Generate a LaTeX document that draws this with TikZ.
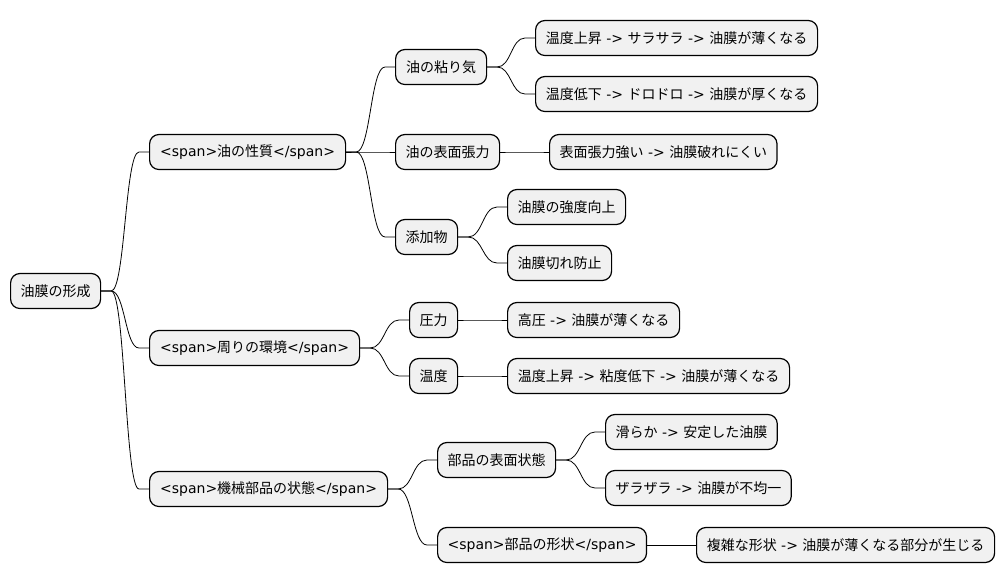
\documentclass[tikz,border=0pt]{standalone}
\usepackage{fontspec}
\setmainfont{Noto Sans CJK JP}
\newfontfamily\latinfont{DejaVu Sans}
\newcommand\lt[1]{{\latinfont#1}}
\usetikzlibrary{calc}

\definecolor{boxgray}{HTML}{F1F1F1}
\tikzset{
    topic/.style={draw, fill=boxgray, rounded corners=7pt, line width=0.9pt, anchor=west,
        minimum height=26.25pt, inner xsep=7.5pt, font=\fontsize{10.5}{12}\selectfont},
    link/.style={line width=0.6pt}
}
% branch from parent (east) to child (west)
\newcommand\branch[2]{%
    \path (#1.east) ++(7.5pt,0) coordinate (p) (#2.west) ++(-7.5pt,0) coordinate (q);
    \draw[link] let \p1=(p), \p2=(q) in (#1.east) -- (p)
        .. controls ({(\x1+\x2)/2},\y1) and ({(\x1+\x2)/2},\y2) .. (q) -- (#2.west);}

\begin{document}
\begin{tikzpicture}[x=0.75pt, y=-0.75pt]
    \useasboundingbox (0,0) rectangle (1004,583);

    \node[topic, minimum width=67.5pt] (root) at (10,291) {油膜の形成};

    \node[topic, minimum width=147pt] (oil) at (149,152) {\lt{<span>}油の性質\lt{</span>}};
    \node[topic, minimum width=157.5pt] (env) at (149,348) {\lt{<span>}周りの環境\lt{</span>}};
    \node[topic, minimum width=178.5pt] (part) at (149,489) {\lt{<span>}機械部品の状態\lt{</span>}};

    \node[topic, minimum width=68.25pt] (visc) at (395,67) {油の粘り気};
    \node[topic, minimum width=78pt] (tens) at (395,152) {油の表面張力};
    \node[topic, minimum width=46.5pt] (addi) at (395,237) {添加物};
    \node[topic, minimum width=211.5pt] (hot) at (535,38) {温度上昇\lt{ -> }サラサラ\lt{ -> }油膜が薄くなる};
    \node[topic, minimum width=211.5pt] (cold) at (535,94) {温度低下\lt{ -> }ドロドロ\lt{ -> }油膜が厚くなる};
    \node[topic, minimum width=170.25pt] (strong) at (549,152) {表面張力強い\lt{ -> }油膜破れにくい};
    \node[topic, minimum width=87.75pt] (tough) at (507,207) {油膜の強度向上};
    \node[topic, minimum width=77.25pt] (nocut) at (507,263) {油膜切れ防止};

    \node[topic, minimum width=36pt] (press) at (409,320) {圧力};
    \node[topic, minimum width=36pt] (temp) at (409,376) {温度};
    \node[topic, minimum width=129pt] (hipress) at (507,320) {高圧\lt{ -> }油膜が薄くなる};
    \node[topic, minimum width=211.5pt] (thin) at (507,376) {温度上昇\lt{ -> }粘度低下\lt{ -> }油膜が薄くなる};

    \node[topic, minimum width=87.75pt] (surf) at (437,460) {部品の表面状態};
    \node[topic, minimum width=156pt] (form) at (437,545) {\lt{<span>}部品の形状\lt{</span>}};
    \node[topic, minimum width=128.25pt] (smooth) at (605,432) {滑らか\lt{ -> }安定した油膜};
    \node[topic, minimum width=138.75pt] (rough) at (605,488) {ザラザラ\lt{ -> }油膜が不均一};
    \node[topic, minimum width=223.5pt] (complex) at (696,545) {複雑な形状\lt{ -> }油膜が薄くなる部分が生じる};

    \foreach \a/\b in {root/oil, root/env, root/part,
        oil/visc, oil/tens, oil/addi, visc/hot, visc/cold, tens/strong, addi/tough, addi/nocut,
        env/press, env/temp, press/hipress, temp/thin,
        part/surf, part/form, surf/smooth, surf/rough, form/complex}
        \branch{\a}{\b};
\end{tikzpicture}
\end{document}
